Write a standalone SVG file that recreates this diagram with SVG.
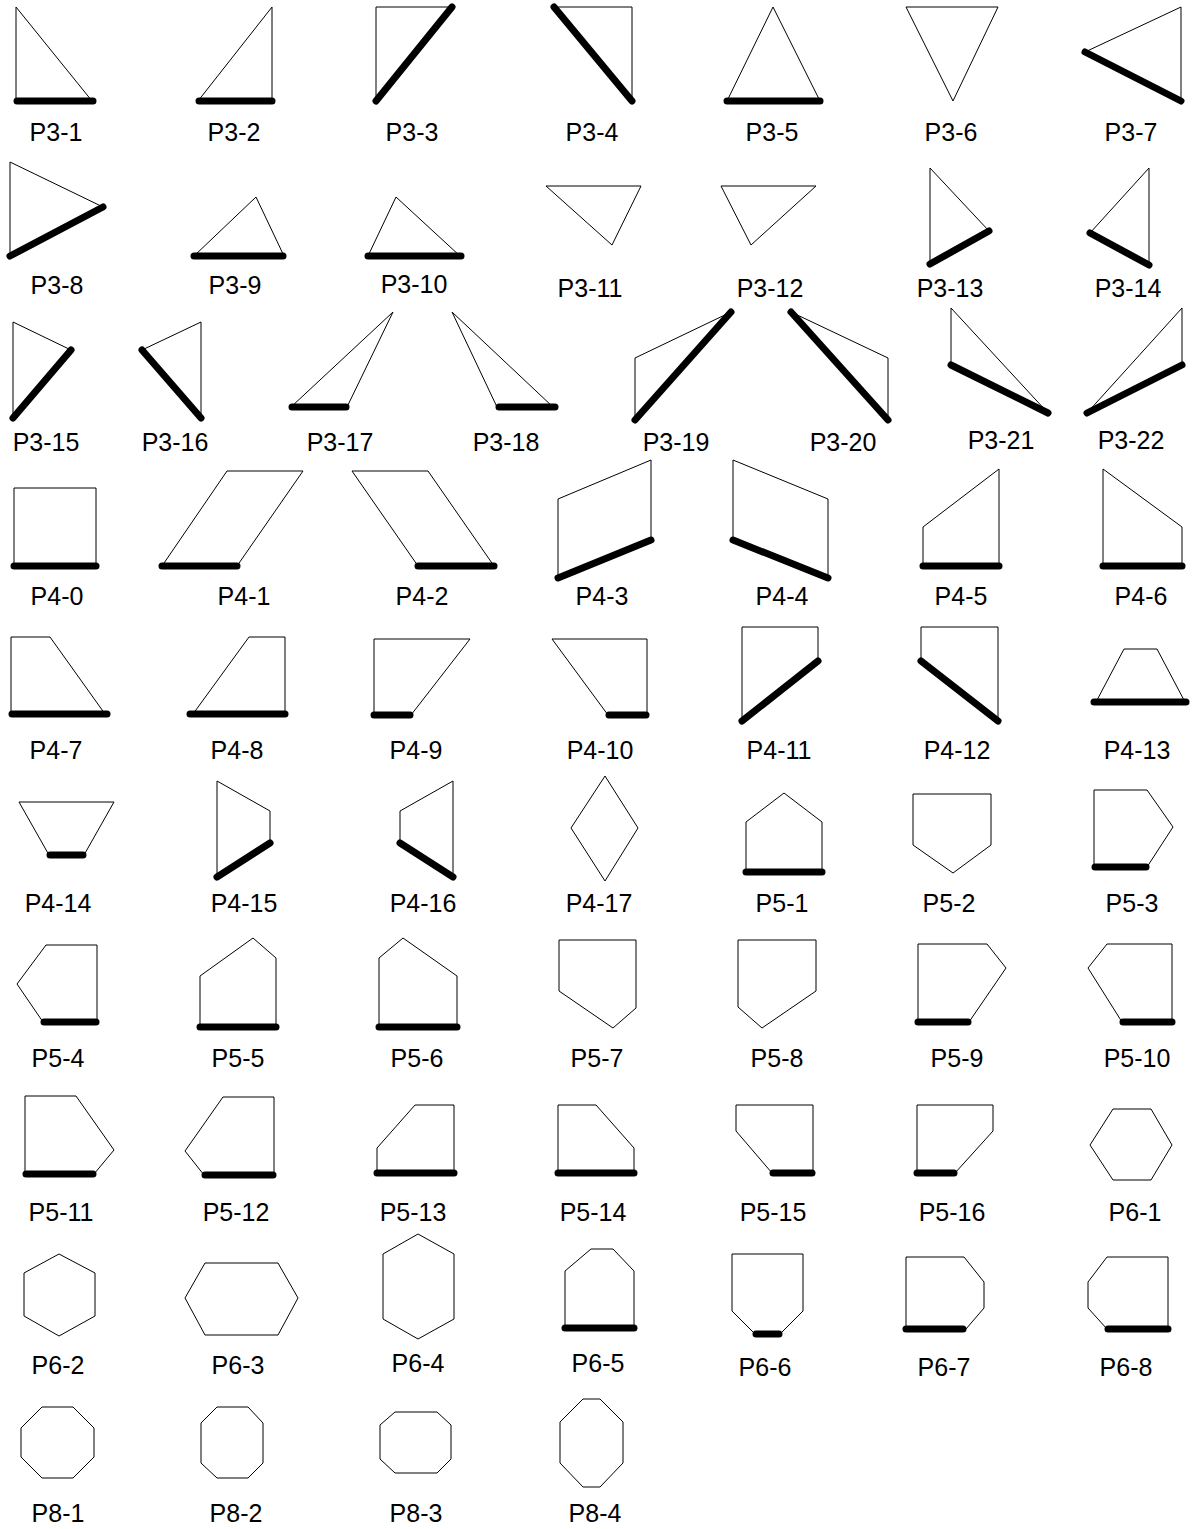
<svg xmlns="http://www.w3.org/2000/svg" width="1193" height="1529" viewBox="0 0 1193 1529">
<style>
.t{fill:none;stroke:#000;stroke-width:1;stroke-linejoin:miter}
.k{stroke:#000;stroke-width:7;stroke-linecap:round}
.l{font-family:"Liberation Sans",Arial,sans-serif;font-size:25px;fill:#000;text-anchor:middle}
</style>
<rect width="1193" height="1529" fill="#fff"/>
<g id="row1">
<g id="P3-1"><polygon class="t" points="16,7 16,101 92,101"/><line class="k" x1="17" y1="101" x2="93" y2="101"/><text class="l" x="56" y="141">P3-1</text></g>
<g id="P3-2"><polygon class="t" points="272,7 272,101 198,101"/><line class="k" x1="199" y1="101" x2="272" y2="101"/><text class="l" x="234" y="141">P3-2</text></g>
<g id="P3-3"><polygon class="t" points="376,7 452,7 376,101"/><line class="k" x1="376" y1="101" x2="452" y2="7"/><text class="l" x="412" y="141">P3-3</text></g>
<g id="P3-4"><polygon class="t" points="554,7 632,7 632,101"/><line class="k" x1="554" y1="7" x2="632" y2="101"/><text class="l" x="592" y="141">P3-4</text></g>
<g id="P3-5"><polygon class="t" points="773,7 820,101 727,101"/><line class="k" x1="727" y1="101" x2="820" y2="101"/><text class="l" x="772" y="141">P3-5</text></g>
<g id="P3-6"><polygon class="t" points="906,7 998,7 953,101"/><text class="l" x="951" y="141">P3-6</text></g>
<g id="P3-7"><polygon class="t" points="1181,7 1181,101 1085,52"/><line class="k" x1="1085" y1="52" x2="1181" y2="101"/><text class="l" x="1131" y="141">P3-7</text></g>
</g>
<g id="row2">
<g id="P3-8"><polygon class="t" points="10,162 10,256 103,207"/><line class="k" x1="10" y1="256" x2="103" y2="207"/><text class="l" x="57" y="294">P3-8</text></g>
<g id="P3-9"><polygon class="t" points="256,197 284,256 194,256"/><line class="k" x1="194" y1="256" x2="283" y2="256"/><text class="l" x="235" y="294">P3-9</text></g>
<g id="P3-10"><polygon class="t" points="396,197 460,256 368,256"/><line class="k" x1="368" y1="256" x2="461" y2="256"/><text class="l" x="414" y="293">P3-10</text></g>
<g id="P3-11"><polygon class="t" points="546,186 641,186 612,245"/><text class="l" x="590" y="297">P3-11</text></g>
<g id="P3-12"><polygon class="t" points="721,186 816,186 751,245"/><text class="l" x="770" y="297">P3-12</text></g>
<g id="P3-13"><polygon class="t" points="930,168 930,264 989,231"/><line class="k" x1="930" y1="264" x2="989" y2="231"/><text class="l" x="950" y="297">P3-13</text></g>
<g id="P3-14"><polygon class="t" points="1149,168 1149,265 1090,233"/><line class="k" x1="1090" y1="233" x2="1149" y2="265"/><text class="l" x="1128" y="297">P3-14</text></g>
</g>
<g id="row3">
<g id="P3-15"><polygon class="t" points="13,322 13,418 71,350"/><line class="k" x1="13" y1="418" x2="71" y2="350"/><text class="l" x="46" y="451">P3-15</text></g>
<g id="P3-16"><polygon class="t" points="201,322 201,418 142,350"/><line class="k" x1="142" y1="350" x2="201" y2="418"/><text class="l" x="175" y="451">P3-16</text></g>
<g id="P3-17"><polygon class="t" points="393,312 347,407 291,407"/><line class="k" x1="292" y1="407" x2="346" y2="407"/><text class="l" x="340" y="451">P3-17</text></g>
<g id="P3-18"><polygon class="t" points="452,312 553,407 497,407"/><line class="k" x1="499" y1="407" x2="555" y2="407"/><text class="l" x="506" y="451">P3-18</text></g>
<g id="P3-19"><polygon class="t" points="635,420 635,358 731,312"/><line class="k" x1="635" y1="420" x2="731" y2="312"/><text class="l" x="676" y="451">P3-19</text></g>
<g id="P3-20"><polygon class="t" points="791,312 888,358 888,420"/><line class="k" x1="791" y1="312" x2="888" y2="420"/><text class="l" x="843" y="451">P3-20</text></g>
<g id="P3-21"><polygon class="t" points="951,308 951,365 1048,413"/><line class="k" x1="951" y1="365" x2="1048" y2="413"/><text class="l" x="1001" y="449">P3-21</text></g>
<g id="P3-22"><polygon class="t" points="1182,308 1182,365 1087,413"/><line class="k" x1="1182" y1="365" x2="1087" y2="413"/><text class="l" x="1131" y="449">P3-22</text></g>
</g>
<g id="row4">
<g id="P4-0"><polygon class="t" points="14,488 96,488 96,566 14,566"/><line class="k" x1="14" y1="566" x2="96" y2="566"/><text class="l" x="57" y="605">P4-0</text></g>
<g id="P4-1"><polygon class="t" points="227,471 303,471 237,566 162,566"/><line class="k" x1="162" y1="566" x2="237" y2="566"/><text class="l" x="244" y="605">P4-1</text></g>
<g id="P4-2"><polygon class="t" points="352,471 428,471 494,566 418,566"/><line class="k" x1="418" y1="566" x2="494" y2="566"/><text class="l" x="422" y="605">P4-2</text></g>
<g id="P4-3"><polygon class="t" points="558,499 651,460 651,540 558,578"/><line class="k" x1="558" y1="578" x2="651" y2="540"/><text class="l" x="602" y="605">P4-3</text></g>
<g id="P4-4"><polygon class="t" points="733,460 828,499 828,578 733,540"/><line class="k" x1="733" y1="540" x2="828" y2="578"/><text class="l" x="782" y="605">P4-4</text></g>
<g id="P4-5"><polygon class="t" points="923,527 999,469 999,566 923,566"/><line class="k" x1="923" y1="566" x2="999" y2="566"/><text class="l" x="961" y="605">P4-5</text></g>
<g id="P4-6"><polygon class="t" points="1103,469 1182,527 1182,566 1103,566"/><line class="k" x1="1103" y1="566" x2="1182" y2="566"/><text class="l" x="1141" y="605">P4-6</text></g>
</g>
<g id="row5">
<g id="P4-7"><polygon class="t" points="11,637 50,637 105,714 11,714"/><line class="k" x1="12" y1="714" x2="107" y2="714"/><text class="l" x="56" y="759">P4-7</text></g>
<g id="P4-8"><polygon class="t" points="249,637 285,637 285,714 193,714"/><line class="k" x1="190" y1="714" x2="285" y2="714"/><text class="l" x="237" y="759">P4-8</text></g>
<g id="P4-9"><polygon class="t" points="374,639 470,639 411,715 374,715"/><line class="k" x1="374" y1="715" x2="410" y2="715"/><text class="l" x="416" y="759">P4-9</text></g>
<g id="P4-10"><polygon class="t" points="552,639 647,639 647,715 608,715"/><line class="k" x1="609" y1="715" x2="646" y2="715"/><text class="l" x="600" y="759">P4-10</text></g>
<g id="P4-11"><polygon class="t" points="742,627 818,627 818,661 742,721"/><line class="k" x1="742" y1="721" x2="818" y2="661"/><text class="l" x="779" y="759">P4-11</text></g>
<g id="P4-12"><polygon class="t" points="921,627 998,627 998,721 921,661"/><line class="k" x1="921" y1="661" x2="998" y2="721"/><text class="l" x="957" y="759">P4-12</text></g>
<g id="P4-13"><polygon class="t" points="1124,649 1157,649 1185,702 1096,702"/><line class="k" x1="1094" y1="702" x2="1186" y2="702"/><text class="l" x="1137" y="759">P4-13</text></g>
</g>
<g id="row6">
<g id="P4-14"><polygon class="t" points="19,802 114,802 84,855 49,855"/><line class="k" x1="50" y1="855" x2="83" y2="855"/><text class="l" x="58" y="912">P4-14</text></g>
<g id="P4-15"><polygon class="t" points="217,781 270,811 270,843 217,877"/><line class="k" x1="270" y1="843" x2="217" y2="877"/><text class="l" x="244" y="912">P4-15</text></g>
<g id="P4-16"><polygon class="t" points="453,781 453,877 400,843 400,811"/><line class="k" x1="400" y1="843" x2="453" y2="877"/><text class="l" x="423" y="912">P4-16</text></g>
<g id="P4-17"><polygon class="t" points="605,776 638,828 605,881 571,828"/><text class="l" x="599" y="912">P4-17</text></g>
<g id="P5-1"><polygon class="t" points="784,793 822,822 822,872 746,872 746,822"/><line class="k" x1="746" y1="872" x2="822" y2="872"/><text class="l" x="782" y="912">P5-1</text></g>
<g id="P5-2"><polygon class="t" points="913,794 991,794 991,845 953,873 913,845"/><text class="l" x="949" y="912">P5-2</text></g>
<g id="P5-3"><polygon class="t" points="1094,790 1147,790 1173,827 1147,867 1094,867"/><line class="k" x1="1095" y1="867" x2="1146" y2="867"/><text class="l" x="1132" y="912">P5-3</text></g>
</g>
<g id="row7">
<g id="P5-4"><polygon class="t" points="46,945 97,945 97,1022 43,1022 17,984"/><line class="k" x1="44" y1="1022" x2="96" y2="1022"/><text class="l" x="58" y="1067">P5-4</text></g>
<g id="P5-5"><polygon class="t" points="253,938 276,958 276,1027 200,1027 200,976"/><line class="k" x1="200" y1="1027" x2="276" y2="1027"/><text class="l" x="238" y="1067">P5-5</text></g>
<g id="P5-6"><polygon class="t" points="403,938 457,976 457,1027 379,1027 379,958"/><line class="k" x1="379" y1="1027" x2="457" y2="1027"/><text class="l" x="417" y="1067">P5-6</text></g>
<g id="P5-7"><polygon class="t" points="559,940 636,940 636,1008 613,1028 559,991"/><text class="l" x="597" y="1067">P5-7</text></g>
<g id="P5-8"><polygon class="t" points="738,940 816,940 816,991 762,1028 738,1007"/><text class="l" x="777" y="1067">P5-8</text></g>
<g id="P5-9"><polygon class="t" points="918,944 987,944 1006,968 969,1022 918,1022"/><line class="k" x1="918" y1="1022" x2="968" y2="1022"/><text class="l" x="957" y="1067">P5-9</text></g>
<g id="P5-10"><polygon class="t" points="1107,944 1172,944 1172,1022 1122,1022 1088,968"/><line class="k" x1="1123" y1="1022" x2="1172" y2="1022"/><text class="l" x="1137" y="1067">P5-10</text></g>
</g>
<g id="row8">
<g id="P5-11"><polygon class="t" points="25,1096 76,1096 114,1150 94,1174 25,1174"/><line class="k" x1="26" y1="1174" x2="93" y2="1174"/><text class="l" x="61" y="1221">P5-11</text></g>
<g id="P5-12"><polygon class="t" points="223,1097 274,1097 274,1175 204,1175 185,1151"/><line class="k" x1="205" y1="1175" x2="273" y2="1175"/><text class="l" x="236" y="1221">P5-12</text></g>
<g id="P5-13"><polygon class="t" points="415,1105 454,1105 454,1173 377,1173 377,1148"/><line class="k" x1="377" y1="1173" x2="454" y2="1173"/><text class="l" x="413" y="1221">P5-13</text></g>
<g id="P5-14"><polygon class="t" points="558,1105 596,1105 634,1148 634,1173 558,1173"/><line class="k" x1="558" y1="1173" x2="634" y2="1173"/><text class="l" x="593" y="1221">P5-14</text></g>
<g id="P5-15"><polygon class="t" points="736,1105 813,1105 813,1173 772,1173 736,1131"/><line class="k" x1="773" y1="1173" x2="812" y2="1173"/><text class="l" x="773" y="1221">P5-15</text></g>
<g id="P5-16"><polygon class="t" points="917,1105 993,1105 993,1131 955,1173 917,1173"/><line class="k" x1="917" y1="1173" x2="954" y2="1173"/><text class="l" x="952" y="1221">P5-16</text></g>
<g id="P6-1"><polygon class="t" points="1113,1109 1151,1109 1172,1145 1151,1180 1113,1180 1090,1145"/><text class="l" x="1135" y="1221">P6-1</text></g>
</g>
<g id="row9">
<g id="P6-2"><polygon class="t" points="59,1254 95,1273 95,1316 59,1336 24,1316 24,1273"/><text class="l" x="58" y="1374">P6-2</text></g>
<g id="P6-3"><polygon class="t" points="205,1263 278,1263 298,1298 278,1335 205,1335 185,1298"/><text class="l" x="238" y="1374">P6-3</text></g>
<g id="P6-4"><polygon class="t" points="418,1234 454,1254 454,1319 418,1339 383,1319 383,1254"/><text class="l" x="418" y="1372">P6-4</text></g>
<g id="P6-5"><polygon class="t" points="591,1249 613,1249 634,1271 634,1328 565,1328 565,1271"/><line class="k" x1="565" y1="1328" x2="634" y2="1328"/><text class="l" x="598" y="1372">P6-5</text></g>
<g id="P6-6"><polygon class="t" points="732,1254 803,1254 803,1311 780,1334 755,1334 732,1311"/><line class="k" x1="756" y1="1334" x2="779" y2="1334"/><text class="l" x="765" y="1376">P6-6</text></g>
<g id="P6-7"><polygon class="t" points="906,1257 964,1257 984,1282 984,1308 966,1329 906,1329"/><line class="k" x1="906" y1="1329" x2="963" y2="1329"/><text class="l" x="944" y="1376">P6-7</text></g>
<g id="P6-8"><polygon class="t" points="1107,1257 1168,1257 1168,1329 1107,1329 1088,1308 1088,1282"/><line class="k" x1="1108" y1="1329" x2="1168" y2="1329"/><text class="l" x="1126" y="1376">P6-8</text></g>
</g>
<g id="row10">
<g id="P8-1"><polygon class="t" points="42,1407 73,1407 94,1428 94,1457 73,1478 42,1478 21,1457 21,1428"/><text class="l" x="58" y="1522">P8-1</text></g>
<g id="P8-2"><polygon class="t" points="217,1407 248,1407 263,1423 263,1463 248,1478 217,1478 201,1463 201,1423"/><text class="l" x="236" y="1522">P8-2</text></g>
<g id="P8-3"><polygon class="t" points="395,1412 437,1412 451,1425 451,1459 437,1473 395,1473 380,1459 380,1425"/><text class="l" x="416" y="1522">P8-3</text></g>
<g id="P8-4"><polygon class="t" points="583,1399 600,1399 623,1422 623,1463 600,1487 583,1487 560,1463 560,1422"/><text class="l" x="595" y="1522">P8-4</text></g>
</g>
</svg>
